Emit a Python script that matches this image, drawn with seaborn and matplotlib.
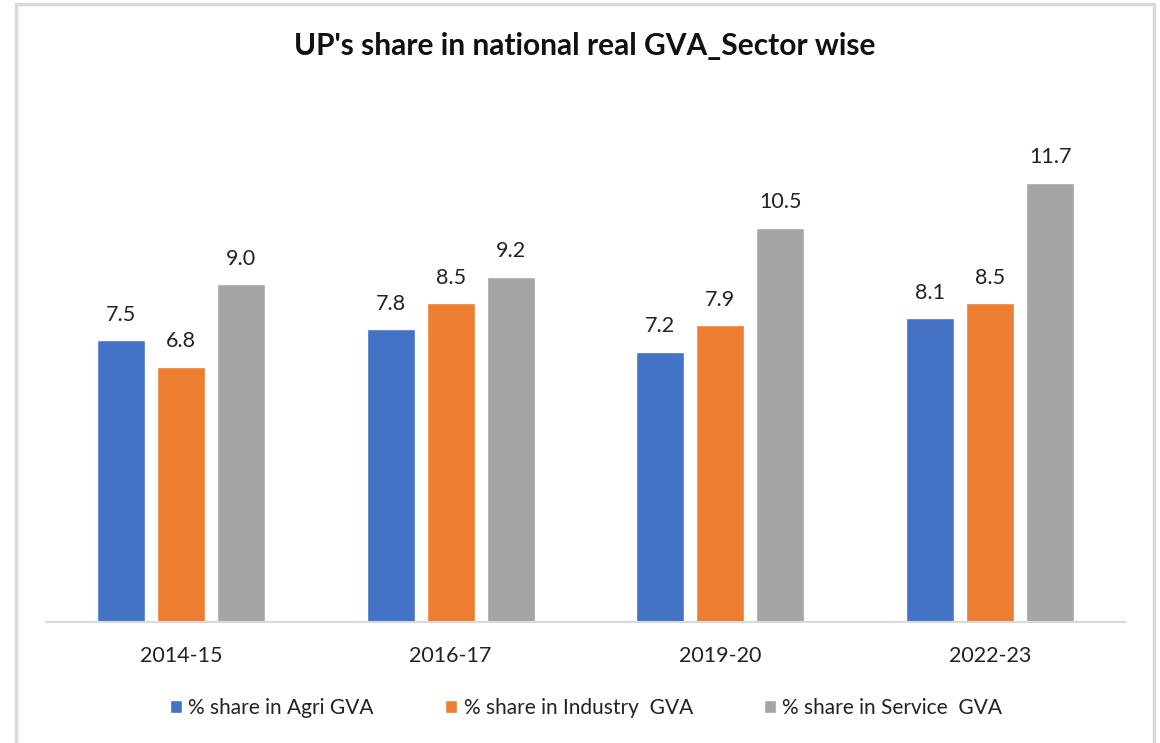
import matplotlib
matplotlib.use("Agg")
import matplotlib.pyplot as plt
from matplotlib.lines import Line2D
import seaborn as sns
import pandas as pd

years = ["2014-15", "2016-17", "2019-20", "2022-23"]
agri = [7.5, 7.8, 7.2, 8.1]
industry = [6.8, 8.5, 7.9, 8.5]
service = [9.0, 9.2, 10.5, 11.7]
series_names = ["% share in Agri GVA", "% share in Industry  GVA", "% share in Service  GVA"]
colors = ["#4472C4", "#ED7D31", "#A5A5A5"]

rows = []
for name, vals in zip(series_names, [agri, industry, service]):
    for y, v in zip(years, vals):
        rows.append({"Year": y, "Series": name, "Share": v})
df = pd.DataFrame(rows)

sns.set_theme(style="white")
plt.rcParams["font.family"] = ["Lato", "DejaVu Sans"]

fig = plt.figure(figsize=(11.6, 7.43), dpi=100)
ax = fig.add_axes([46 / 1160, 1 - 622 / 743, (1125 - 46) / 1160, (622 - 100) / 743])

sns.barplot(data=df, x="Year", y="Share", hue="Series", order=years,
            hue_order=series_names, palette=colors, width=0.667, gap=0.2,
            saturation=1, errorbar=None, ax=ax)

for cont in ax.containers:
    ax.bar_label(cont, fmt="%.1f", padding=11, fontsize=15.5, color="#222222")

ax.set_ylim(0, 13.9)
ax.set_xlim(-0.5, 3.5)
ax.set_yticks([])
ax.set_xlabel("")
ax.set_ylabel("")
for s in ["top", "right", "left"]:
    ax.spines[s].set_visible(False)
ax.spines["bottom"].set_color("#D9D9D9")
ax.spines["bottom"].set_linewidth(1.5)
ax.tick_params(axis="x", length=0, labelsize=15.5, pad=17, colors="#222222")

leg = ax.legend(loc="center", bbox_to_anchor=(586 / 1160, 1 - 708 / 743),
                bbox_transform=fig.transFigure, ncol=3, frameon=False,
                fontsize=15, handlelength=0.6, handleheight=0.6,
                handletextpad=0.3, columnspacing=3.4)
for t in leg.get_texts():
    t.set_color("#222222")

fig.text(585 / 1160, 1 - 46 / 743, "UP's share in national real GVA_Sector wise",
         ha="center", va="center", fontsize=21.5, fontweight="bold", color="#111111")

# light frame around the chart
bc = "#D9D9D9"
fig.add_artist(Line2D([16 / 1160, 16 / 1160], [0, 1 - 4 / 743], transform=fig.transFigure, color=bc, lw=2.5))
fig.add_artist(Line2D([16 / 1160, 1154 / 1160], [1 - 4 / 743, 1 - 4 / 743], transform=fig.transFigure, color=bc, lw=2.5))
fig.add_artist(Line2D([1154 / 1160, 1154 / 1160], [0, 1 - 4 / 743], transform=fig.transFigure, color=bc, lw=2.5))

fig.savefig("out.png", dpi=100, facecolor="white")
